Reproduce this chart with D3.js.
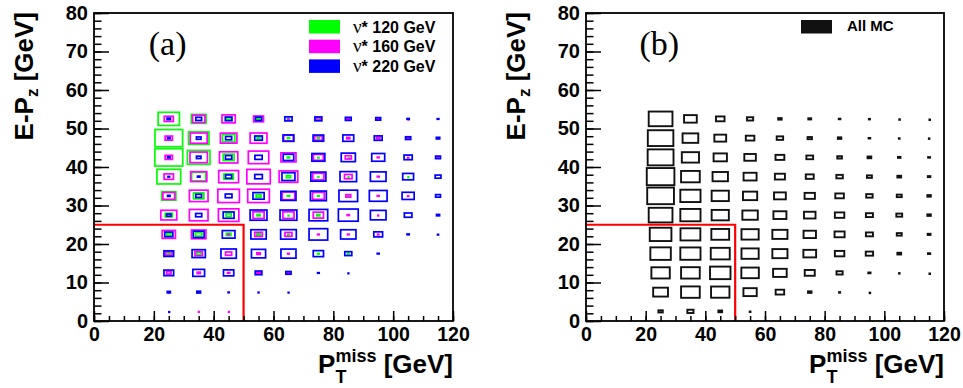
<!DOCTYPE html>
<html><head><meta charset="utf-8">
<script src="https://cdn.jsdelivr.net/npm/d3@7"></script>
<style>body{margin:0;background:#fff}</style>
</head><body><svg id="c" width="963" height="388"></svg>
<script>
// ---- data ----
const ptCenters = [25,35,45,55,65,75,85,95,105,115];          // P_T^miss bin centres (GeV)
const epzCenters = [52.5,47.5,42.5,37.5,32.5,27.5,22.5,17.5,12.5,7.5,2.5]; // E-Pz bin centres, top -> bottom
const binW = 10, binH = 5;
const xMajorTicks = [0,20,40,60,80,100,120];
const yMajorTicks = [0,10,20,30,40,50,60,70,80];
const legendA = ["120 GeV","160 GeV","220 GeV"];
const legendB = ["All MC"];
const panelLabels = ["(a)","(b)"];
const cutPt = 50, cutEpz = 25;

// box sizes (relative, 100 = full bin)
const nu120 = [
 [77,55,20,18,13,11,0,0,0,0],
 [98,74,47,15,13,13,0,0,0,0],
 [99,81,42,0,13,9,5,0,0,0],
 [85,53,37,0,20,8,6,0,6,0],
 [53,40,0,22,13,11,10,0,0,0],
 [29,0,23,16,7,16,0,0,0,0],
 [20,27,21,18,10,0,0,0,0,0],
 [16,20,0,0,0,11,11,0,0,0],
 [0,0,0,0,0,0,0,0,0,0],
 [0,11,0,0,0,0,0,0,0,0],
 [0,0,0,0,0,0,0,0,0,0]];
const nu160 = [
 [36,47,50,39,8,22,16,13,5,0],
 [30,62,61,62,38,31,16,17,17,10],
 [30,64,67,74,56,39,26,12,9,11],
 [37,60,72,84,68,43,31,12,0,0],
 [45,68,78,78,48,45,22,12,9,0],
 [59,68,74,43,43,40,13,8,0,0],
 [50,54,10,31,29,11,11,10,0,0],
 [27,31,26,17,11,0,0,0,0,0],
 [21,16,13,17,13,0,0,0,0,0],
 [7,0,0,0,0,0,0,0,0,0],
 [0,7,6,0,0,0,0,0,0,0]];
const nu220 = [
 [17,25,28,27,30,29,25,22,13,11],
 [14,21,26,31,42,41,42,32,23,17],
 [14,21,27,30,41,49,53,49,33,22],
 [11,14,26,31,49,56,61,58,42,25],
 [14,25,28,43,56,59,68,65,46,22],
 [20,26,42,62,62,68,72,58,31,16],
 [33,42,48,57,58,68,57,35,13,9],
 [38,50,57,53,56,40,29,12,0,0],
 [38,45,40,28,23,11,7,0,0,0],
 [16,18,9,8,7,0,0,0,0,0],
 [5,0,0,0,0,0,0,0,0,0]];
const allMC = [
 [86,49,35,27,18,16,12,10,6,4],
 [92,59,46,35,28,21,18,12,9,8],
 [93,64,51,45,36,29,22,19,15,13],
 [99,69,58,50,40,33,28,23,19,15],
 [96,74,64,54,46,41,35,28,23,18],
 [86,74,64,58,50,45,38,30,26,18],
 [79,73,66,64,57,48,40,30,23,16],
 [75,74,70,64,57,49,38,31,19,14],
 [68,69,75,65,52,40,27,14,8,4],
 [56,69,68,51,35,18,10,5,0,0],
 [21,27,19,9,0,0,0,0,0,0]];

const colorsA = ["#00ff00","#ff00ff","#0000ff"];
const SANS = "'Liberation Sans', Arial, sans-serif";
const SERIF = "'Liberation Serif', 'Times New Roman', serif";

const svg = d3.select("#c");
const size = d3.scaleLinear().domain([0,100]).range([0,1]);

function panel(x0, x1, seriesList, colors, sw, label, legendItems, legendX, legendFont, nuPrefix) {
  const x = d3.scaleLinear().domain([0,120]).range([x0,x1]);
  const y = d3.scaleLinear().domain([0,80]).range([321,13]);
  const g = svg.append("g");

  // boxes
  seriesList.forEach((data, si) => {
    const cells = [];
    data.forEach((row, ri) => row.forEach((v, ci) => { if (v > 0) cells.push({v, cx: ptCenters[ci], cy: epzCenters[ri]}); }));
    g.append("g").selectAll("rect").data(cells).join("rect")
      .attr("x", d => x(d.cx - binW*size(d.v)/2) + sw/2)
      .attr("y", d => y(d.cy + binH*size(d.v)/2) + sw/2)
      .attr("width", d => Math.max(x(d.cx + binW*size(d.v)/2) - x(d.cx - binW*size(d.v)/2) - sw, 0.6))
      .attr("height", d => Math.max(y(d.cy - binH*size(d.v)/2) - y(d.cy + binH*size(d.v)/2) - sw, 0.6))
      .attr("fill", "none").attr("stroke", colors[si]).attr("stroke-width", sw);
  });

  // cut lines
  g.append("path")
    .attr("d", `M${x(0)},${y(cutEpz)}H${x(cutPt)}V${y(0)}`)
    .attr("fill","none").attr("stroke","#ff0000").attr("stroke-width",2.2);

  // axes
  const yMinor = g.append("g").attr("transform",`translate(${x0},0)`)
    .call(d3.axisLeft(y).tickValues(d3.range(0,81,2)).tickSize(-7.5).tickFormat(""));
  const yMajor = g.append("g").attr("transform",`translate(${x0},0)`)
    .call(d3.axisLeft(y).tickValues(yMajorTicks).tickSize(-15).tickPadding(6));
  const xMinor = g.append("g").attr("transform",`translate(0,${y(0)})`)
    .call(d3.axisBottom(x).tickValues(d3.range(0,121,5)).tickSize(-5).tickFormat(""));
  const xMajor = g.append("g").attr("transform",`translate(0,${y(0)})`)
    .call(d3.axisBottom(x).tickValues(xMajorTicks).tickSize(-10).tickPadding(6));
  [yMinor,yMajor,xMinor,xMajor].forEach(a => {
    a.select(".domain").remove();
    a.selectAll("line").attr("stroke","#000").attr("stroke-width",1.5);
  });
  yMajor.selectAll("text").attr("font-family",SANS).attr("font-weight","bold").attr("font-size",20).attr("fill","#000");
  xMajor.selectAll("text").attr("font-family",SANS).attr("font-weight","bold").attr("font-size",19.5).attr("fill","#000");

  // frame
  g.append("rect").attr("x",x0).attr("y",13).attr("width",x1-x0).attr("height",308)
    .attr("fill","none").attr("stroke","#000").attr("stroke-width",1.8);

  // y title
  const yt = g.append("text").attr("transform",`translate(${x0-61},12) rotate(-90)`)
    .attr("text-anchor","end").attr("font-family",SANS).attr("font-weight","bold").attr("font-size",26).attr("fill","#000");
  yt.append("tspan").text("E-P");
  yt.append("tspan").attr("font-size",17).attr("dy",5).text("z");
  yt.append("tspan").attr("dy",-5).text(" [GeV]");

  // x title
  const xt = g.append("text").attr("x",x1).attr("y",373)
    .attr("text-anchor","end").attr("font-family",SANS).attr("font-weight","bold").attr("font-size",26).attr("fill","#000");
  xt.append("tspan").text("P");
  xt.append("tspan").attr("font-size",18).attr("dy",10).text("T");
  xt.append("tspan").attr("font-size",18).attr("dx",-11).attr("dy",-21).text("miss");
  xt.append("tspan").attr("dy",11).text(" [GeV]");

  // panel label
  g.append("text").attr("x", x0 + (x1-x0)*0.205).attr("y",55).attr("text-anchor","middle")
    .attr("font-family",SERIF).attr("font-size",34).attr("fill","#000").text(label);

  // legend
  legendItems.forEach((t, i) => {
    const ly = 20 + i*19.7;
    g.append("rect").attr("x",legendX).attr("y",ly).attr("width",31).attr("height",13.5).attr("fill",colors[i]);
    const lt = g.append("text").attr("x",legendX+44).attr("y",ly+12.5)
      .attr("font-family",SANS).attr("font-weight","bold").attr("font-size",legendFont).attr("fill","#000");
    if (nuPrefix) {
      lt.append("tspan").attr("font-family",SERIF).attr("font-weight","normal").attr("font-size",19).text("ν");
      lt.append("tspan").text("* " + t);
    } else {
      lt.append("tspan").attr("dx",2).attr("dy",-2).text(t);
    }
  });
}

panel(94, 453, [nu120, nu160, nu220], colorsA, 1.7, panelLabels[0], legendA, 309, 16, true);
panel(586, 944, [allMC], ["#111"], 1.9, panelLabels[1], legendB, 801, 15, false);
</script></body></html>
